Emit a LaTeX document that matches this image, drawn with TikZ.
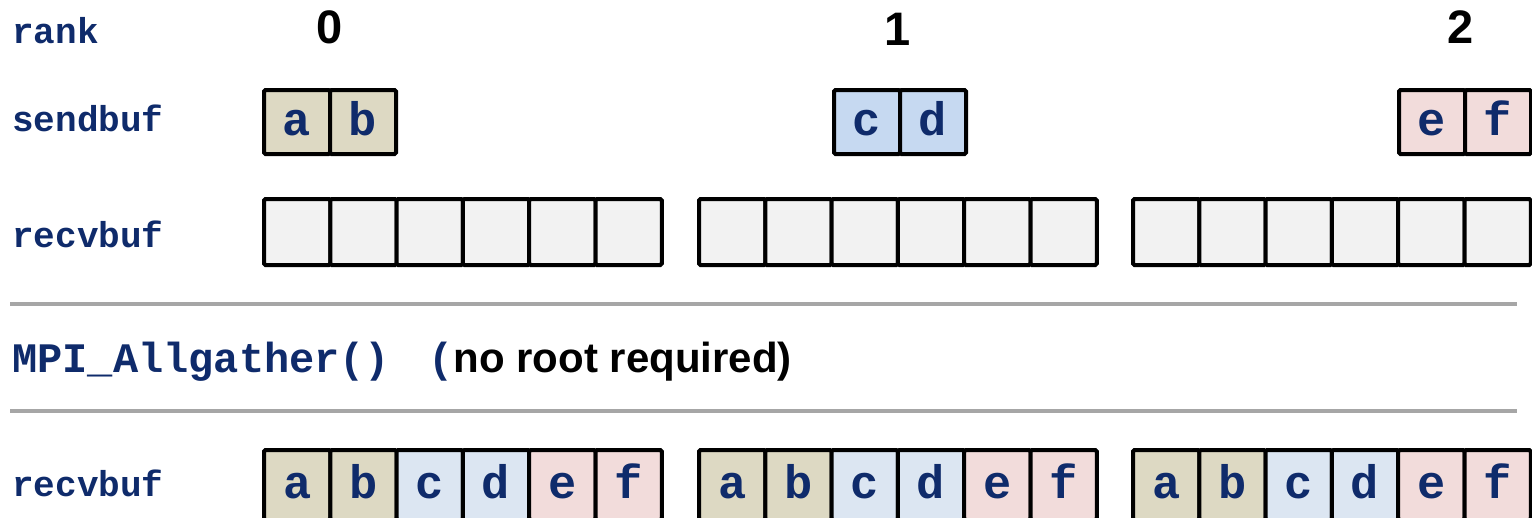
\documentclass[tikz,border=0pt]{standalone}
\usepackage{fontspec}
\setmainfont{Liberation Sans}
\newfontfamily\monofam{Liberation Mono}
\definecolor{navy}{HTML}{0F2B6B}
\definecolor{ctan}{HTML}{DDD9C3}
\definecolor{sblue}{HTML}{C6D9F1}
\definecolor{rblue}{HTML}{DCE6F2}
\definecolor{cpink}{HTML}{F2DCDB}
\definecolor{cempty}{HTML}{F2F2F2}
\definecolor{rulegray}{HTML}{A6A6A6}
\begin{document}
\begin{tikzpicture}[x=1pt,y=-1pt,
 rowlab/.style={anchor=base west, inner sep=0pt, text=navy, font=\monofam\bfseries\fontsize{36}{36}\selectfont},
 ranklab/.style={anchor=base, inner sep=0pt, font=\bfseries\fontsize{47}{47}\selectfont},
 cell/.style={draw=black, line width=4pt, rounded corners=1.5pt, minimum width=66.3pt, inner sep=0pt, text=navy, font=\monofam\bfseries\fontsize{47}{47}\selectfont, text height=26pt, text depth=0pt},
 sendcell/.style={cell, minimum width=66pt, minimum height=64pt},
 recvcell/.style={cell, minimum height=66pt},
 gathcell/.style={cell, minimum height=70pt},
 rulestyle/.style={draw=rulegray, line width=4pt},
]
\useasboundingbox (0,0) rectangle (1532,517);

% row labels
\node[rowlab] (lrank) at (12,43) {rank};
\node[rowlab] (lsend) at (12,131) {sendbuf};
\node[rowlab] (lrecv) at (12,247) {recvbuf};
\node[rowlab] (lrecvb) at (12,496) {recvbuf};

% rank numbers
\node[ranklab] (rk0) at (330,43) {0};
\node[ranklab] (rk1) at (898,45) {1};
\node[ranklab] (rk2) at (1461,43) {2};

% send buffers
\node[sendcell, fill=ctan]  (sa) at (297,122) {a};
\node[sendcell, fill=ctan]  (sb) at (363,122) {b};
\node[sendcell, fill=sblue] (sc) at (867,122) {c};
\node[sendcell, fill=sblue] (sd) at (933,122) {d};
\node[sendcell, fill=cpink] (se) at (1432,122) {e};
\node[sendcell, fill=cpink] (sf) at (1498,122) {f};

% empty receive buffers
\foreach \L [count=\g] in {262,697,1131} {
  \foreach \i in {0,...,5} {
    \node[recvcell, fill=cempty] (e\g-\i) at ({\L+35.15+66.3*\i},232) {};
  }
}

% separators
\coordinate (ra1) at (10,304);
\coordinate (rb1) at (1517,304);
\coordinate (ra2) at (10,411);
\coordinate (rb2) at (1517,411);
\draw[rulestyle] (ra1) -- (rb1);
\draw[rulestyle] (ra2) -- (rb2);

% call
\node[anchor=base west, inner sep=0pt, text=navy, font=\monofam\bfseries\fontsize{42}{42}\selectfont] (mpi) at (12,372) {MPI\_Allgather()};
\node[anchor=base west, inner sep=0pt] (note) at (428,372) {{\monofam\bfseries\fontsize{42}{42}\selectfont\color{navy}(}{\bfseries\fontsize{42}{42}\selectfont no root required)}};

% gathered receive buffers
\foreach \L [count=\g] in {262,697,1131} {
  \foreach \i/\t/\f in {0/a/ctan,1/b/ctan,2/c/rblue,3/d/rblue,4/e/cpink,5/f/cpink} {
    \node[gathcell, fill=\f] (g\g-\i) at ({\L+35.15+66.3*\i},485) {\t};
  }
}
\end{tikzpicture}
\end{document}
